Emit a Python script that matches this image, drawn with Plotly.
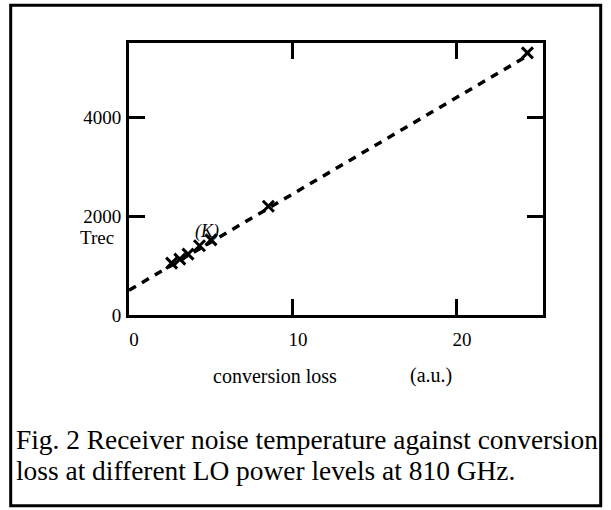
import plotly.graph_objects as go

# Data
conv_loss = [2.6, 3.1, 3.6, 4.3, 5.0, 8.5, 24.3]
trec = [1050, 1130, 1230, 1400, 1520, 2200, 5300]
fit_x = [0.0, 24.3]
fit_y = [500, 5240]

x_ticks = [0, 10, 20]
y_ticks = [0, 2000, 4000]

W, H = 611, 510
L, R, T, B = 129.3, 543.3, 42.7, 315.0
font = "Liberation Serif"

fig = go.Figure()
fig.add_trace(go.Scatter(x=fit_x, y=fit_y, mode="lines",
                         line=dict(color="black", width=3.5, dash="8px,7px"),
                         showlegend=False, hoverinfo="skip"))
fig.add_trace(go.Scatter(x=conv_loss, y=trec, mode="markers",
                         marker=dict(symbol="x-thin-open", size=11, color="black",
                                     line=dict(color="black", width=3)),
                         showlegend=False))

axis_common = dict(showgrid=False, zeroline=False, showline=True, linewidth=3,
                   linecolor="black", mirror="ticks", ticks="inside", ticklen=16,
                   tickwidth=3, tickcolor="black",
                   tickfont=dict(family=font, size=19, color="black"))
fig.update_xaxes(range=[0, 25.25], tickvals=x_ticks, ticktext=[str(v) for v in x_ticks],
                 ticklabelshift=5, ticklabelstandoff=5, **axis_common)
fig.update_yaxes(range=[0, 5500], tickvals=y_ticks, ticktext=[str(v) for v in y_ticks],
                 ticklabelstandoff=1, **axis_common)

pw, ph = R - L, B - T
def px(xp):
    return (xp - L) / pw
def py(yp):
    return (B - yp) / ph

# Outer frame
fig.add_shape(type="rect", xref="paper", yref="paper",
              x0=px(11), x1=px(601), y0=py(506), y1=py(5),
              line=dict(color="black", width=3))

ann = [
    ("conversion loss", 275, 376, 20, "center", False),
    ("(a.u.)", 431, 376, 20, "center", False),
    ("Trec", 97, 237, 19, "center", False),
    ("(K)", 207, 231, 18, "center", True),
    ("Fig. 2 Receiver noise temperature against conversion", 14, 440, 27.4, "left", False),
    ("loss at different LO power levels at 810 GHz.", 14, 471, 27.4, "left", False),
]
for text, xx, yy, size, align, ital in ann:
    fig.add_annotation(xref="paper", yref="paper", x=px(xx), y=py(yy),
                       xanchor=align, yanchor="middle",
                       text=f"<i>{text}</i>" if ital else text, showarrow=False,
                       font=dict(family=font, size=size, color="black"))

fig.update_layout(width=W, height=H, margin=dict(l=L, r=W - R, t=T, b=H - B),
                  paper_bgcolor="white", plot_bgcolor="white")
fig.write_html("out.html", config={"displayModeBar": False},
               post_script="document.body.style.margin='0';document.body.style.overflow='hidden';")
